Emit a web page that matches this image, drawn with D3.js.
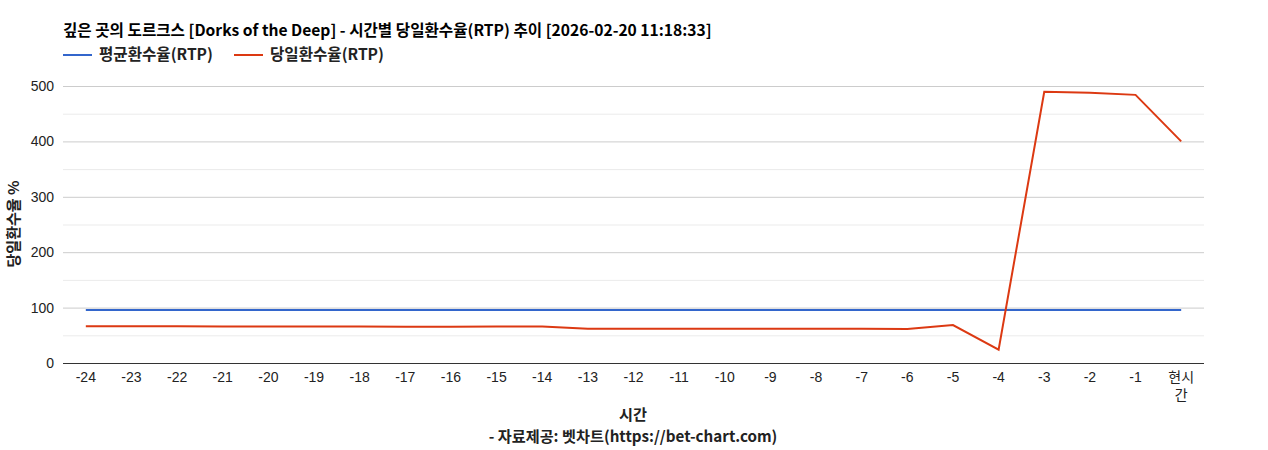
<!DOCTYPE html>
<html><head><meta charset="utf-8">
<script src="https://cdn.jsdelivr.net/npm/d3@7"></script>
<style>
body{margin:0;background:#fff;}
svg{display:block;}
text{font-family:Arial,"Liberation Sans","Noto Sans CJK KR",sans-serif;}
text.kr{font-family:"Noto Sans CJK KR","Liberation Sans",sans-serif;font-weight:bold;}
</style></head>
<body>
<svg id="chart" width="1268" height="450"></svg>
<script>
const categories = ["-24","-23","-22","-21","-20","-19","-18","-17","-16","-15","-14","-13","-12","-11","-10","-9","-8","-7","-6","-5","-4","-3","-2","-1","현시간"];
const avgRTP = [95.8,95.8,95.8,95.8,95.8,95.8,95.8,95.8,95.8,95.8,95.8,95.8,95.8,95.8,95.8,95.8,95.8,95.8,95.8,95.8,95.8,95.8,95.8,95.8,95.8];
const dailyRTP = [66.5,66.5,66.3,65.8,65.8,65.8,65.8,65.3,65.3,65.8,65.8,62,62,62,62,62,62,62,61.5,68.5,24,489.5,488,484,400];
const yTicks = [0,100,200,300,400,500];
const yMinor = [50,150,250,350,450];
const seriesNames = ["평균환수율(RTP)","당일환수율(RTP)"];
const colors = ["#3366cc","#dc3912"];
const titleText = "깊은 곳의 도르크스 [Dorks of the Deep] - 시간별 당일환수율(RTP) 추이 [2026-02-20 11:18:33]";

const svg = d3.select("#chart");
const L = 63, R = 1204, T = 86, B = 363;
const y = d3.scaleLinear().domain([0,500]).range([B,T]);
const x = d3.scalePoint().domain(categories).range([L,R]).padding(0.5);

function fitWidth(sel, target){
  const n = sel.node();
  const w = n.getComputedTextLength();
  const fs = parseFloat(sel.attr("font-size"));
  if (w > 0) sel.attr("font-size", (fs*target/w).toFixed(2));
}

// gridlines
svg.append("g").selectAll("line").data(yMinor).join("line")
  .attr("x1",L).attr("x2",R).attr("y1",d=>y(d)+0.5).attr("y2",d=>y(d)+0.5)
  .attr("stroke","#ebebeb").attr("stroke-width",1);
svg.append("g").selectAll("line").data(yTicks.filter(d=>d>0)).join("line")
  .attr("x1",L).attr("x2",R).attr("y1",d=>y(d)+0.5).attr("y2",d=>y(d)+0.5)
  .attr("stroke","#cccccc").attr("stroke-width",1);

// y labels
svg.append("g").selectAll("text").data(yTicks).join("text")
  .attr("x",54).attr("y",d=>y(d)+5).attr("text-anchor","end")
  .attr("font-size",14).attr("fill","#222").text(d=>d);

// lines
const line = d3.line().x((d,i)=>x(categories[i])).y(d=>y(d));
[avgRTP,dailyRTP].forEach((s,k)=>{
  svg.append("path").datum(s).attr("d",line).attr("fill","none")
    .attr("stroke",colors[k]).attr("stroke-width",2).attr("stroke-linejoin","miter");
});

// baseline
svg.append("line").attr("x1",L).attr("x2",R).attr("y1",B+0.5).attr("y2",B+0.5)
  .attr("stroke","#333").attr("stroke-width",1);

// x labels
const xg = svg.append("g");
categories.forEach(c=>{
  if(c==="현시간"){
    const t = xg.append("text").attr("x",x(c)).attr("y",382).attr("text-anchor","middle")
      .attr("font-size",14).attr("fill","#222");
    t.append("tspan").attr("x",x(c)).attr("dy",0).text("현시");
    t.append("tspan").attr("x",x(c)).attr("dy",18).text("간");
  } else {
    xg.append("text").attr("x",x(c)).attr("y",382).attr("text-anchor","middle")
      .attr("font-size",14).attr("fill","#222").text(c);
  }
});

// title
const tt = svg.append("text").attr("class","kr").attr("x",63).attr("y",36).attr("font-size",14)
  .attr("fill","#000").text(titleText);
fitWidth(tt, 649);

// legend
const legX = [63,234];
seriesNames.forEach((n,k)=>{
  svg.append("line").attr("x1",legX[k]).attr("x2",legX[k]+29).attr("y1",55).attr("y2",55)
    .attr("stroke",colors[k]).attr("stroke-width",2);
  const lt = svg.append("text").attr("class","kr").attr("x",legX[k]+36).attr("y",60).attr("font-size",14)
    .attr("fill","#222").text(n);
  fitWidth(lt, 114);
});

// axis titles
const yt = svg.append("text").attr("class","kr").attr("transform","translate(19,224) rotate(-90)").attr("text-anchor","middle")
  .attr("font-size",13).attr("fill","#222").text("당일환수율 %");
fitWidth(yt, 87);
const xt = svg.append("text").attr("class","kr").attr("x",633).attr("y",420).attr("text-anchor","middle")
  .attr("font-size",14).attr("fill","#222").text("시간");
const ct = svg.append("text").attr("class","kr").attr("x",633).attr("y",442).attr("text-anchor","middle")
  .attr("font-size",14).attr("fill","#222").text("- 자료제공: 벳차트(https://bet-chart.com)");
fitWidth(ct, 289);
xt.attr("font-size", ct.attr("font-size"));
</script>
</body></html>
